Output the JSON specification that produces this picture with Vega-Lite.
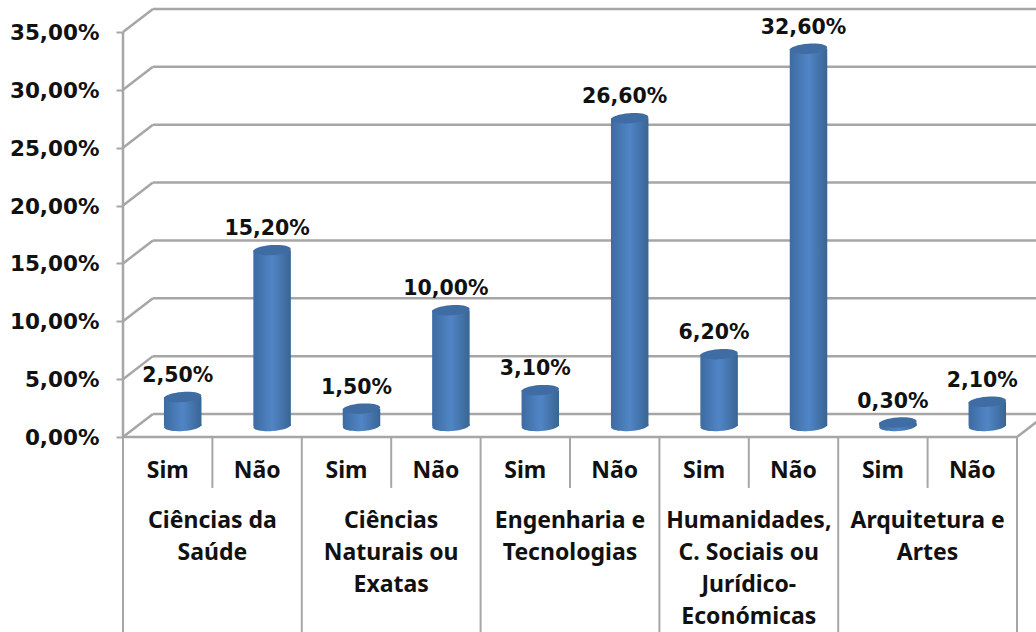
{
"$schema":"https://vega.github.io/schema/vega-lite/v6.json",
"width":913,"height":632,
"autosize":{"type":"none"},
"padding":{"left":123,"top":0,"right":0,"bottom":0},
"background":"white",
"config":{"view":{"stroke":null},"locale":{"number":{"decimal":",","thousands":".","grouping":[3],"currency":["","€"]}},
 "text":{"font":"Noto Sans","fontWeight":"bold","color":"#111111"}},
"datasets":{
 "dados":[
  {"area":"Ciências da Saúde","resposta":"Sim","chave":"CS Sim","pct":0.025},
  {"area":"Ciências da Saúde","resposta":"Não","chave":"CS Não","pct":0.152},
  {"area":"Ciências Naturais ou Exatas","resposta":"Sim","chave":"CN Sim","pct":0.015},
  {"area":"Ciências Naturais ou Exatas","resposta":"Não","chave":"CN Não","pct":0.10},
  {"area":"Engenharia e Tecnologias","resposta":"Sim","chave":"ET Sim","pct":0.031},
  {"area":"Engenharia e Tecnologias","resposta":"Não","chave":"ET Não","pct":0.266},
  {"area":"Humanidades, C. Sociais ou Jurídico-Económicas","resposta":"Sim","chave":"HU Sim","pct":0.062},
  {"area":"Humanidades, C. Sociais ou Jurídico-Económicas","resposta":"Não","chave":"HU Não","pct":0.326},
  {"area":"Arquitetura e Artes","resposta":"Sim","chave":"AA Sim","pct":0.003},
  {"area":"Arquitetura e Artes","resposta":"Não","chave":"AA Não","pct":0.021}
 ],
 "areas":[
  {"area":"Ciências da Saúde","rotulo":"Ciências da\nSaúde"},
  {"area":"Ciências Naturais ou Exatas","rotulo":"Ciências\nNaturais ou\nExatas"},
  {"area":"Engenharia e Tecnologias","rotulo":"Engenharia e\nTecnologias"},
  {"area":"Humanidades, C. Sociais ou Jurídico-Económicas","rotulo":"Humanidades,\nC. Sociais ou\nJurídico-\nEconómicas"},
  {"area":"Arquitetura e Artes","rotulo":"Arquitetura e\nArtes"}
 ],
 "grelha":[{"v":0},{"v":0.05},{"v":0.10},{"v":0.15},{"v":0.20},{"v":0.25},{"v":0.30},{"v":0.35}],
 "grupos":[{"s":0},{"s":2},{"s":4},{"s":6},{"s":8},{"s":10}],
 "subgrupos":[{"s":1},{"s":3},{"s":5},{"s":7},{"s":9}]
},
"resolve":{"scale":{"x":"independent"}},
"layer":[
 {"data":{"name":"grelha"},
  "mark":{"type":"rule","color":"#a6a6a6","strokeWidth":2.5},
  "encoding":{
   "x":{"datum":0.335,"type":"quantitative","scale":{"domain":[0,10],"range":[0,894]},"axis":null},
   "x2":{"datum":10.335},
   "y":{"field":"back","type":"quantitative","scale":{"domain":[-0.1685,0.37766],"range":[632,0],"nice":false,"zero":false},
     "axis":{"title":null,"values":[0,0.05,0.10,0.15,0.20,0.25,0.30,0.35],"format":".2%","domain":false,"grid":false,"tickSize":7,"tickWidth":2,"tickColor":"#a6a6a6","labelPadding":17,"labelOffset":1.5,"labelFont":"DejaVu Sans","labelFontWeight":"bold","labelFontSize":21.5,"labelColor":"#111111"}}
  },
  "transform":[{"calculate":"datum.v+0.0199","as":"back"}]
 },
 {"data":{"name":"grelha"},
  "transform":[{"calculate":"datum.v+0.0199","as":"back"}],
  "mark":{"type":"rule","color":"#a6a6a6","strokeWidth":2.5},
  "encoding":{
   "x":{"datum":0,"type":"quantitative","scale":{"domain":[0,10],"range":[0,894]},"axis":null},
   "x2":{"datum":0.335},
   "y":{"field":"v","type":"quantitative"},
   "y2":{"field":"back"}
  }
 },
 {"data":{"values":[{"v":0}]},
  "mark":{"type":"rule","color":"#a6a6a6","strokeWidth":2.5},
  "encoding":{
   "x":{"datum":10,"type":"quantitative","scale":{"domain":[0,10],"range":[0,894]},"axis":null},
   "x2":{"datum":10.335},
   "y":{"datum":0,"type":"quantitative"},
   "y2":{"datum":0.0199}
  }
 },
 {"data":{"values":[{"v":0}]},
  "mark":{"type":"rule","color":"#a6a6a6","strokeWidth":2.5},
  "encoding":{
   "x":{"datum":0,"type":"quantitative","scale":{"domain":[0,10],"range":[0,894]},"axis":null},
   "x2":{"datum":10},
   "y":{"datum":0,"type":"quantitative"}
  }
 },
 {"data":{"values":[{"v":0}]},
  "mark":{"type":"rule","color":"#a6a6a6","strokeWidth":2.5},
  "encoding":{
   "x":{"datum":0,"type":"quantitative","scale":{"domain":[0,10],"range":[0,894]},"axis":null},
   "y":{"datum":0.35,"type":"quantitative"},
   "y2":{"datum":0}
  }
 },
 {"data":{"name":"grupos"},
  "mark":{"type":"rule","color":"#a6a6a6","strokeWidth":2},
  "encoding":{
   "x":{"field":"s","type":"quantitative","scale":{"domain":[0,10],"range":[0,894]},"axis":null},
   "y":{"datum":0,"type":"quantitative"},
   "y2":{"datum":-0.1685}
  }
 },
 {"data":{"name":"subgrupos"},
  "mark":{"type":"rule","color":"#a6a6a6","strokeWidth":2},
  "encoding":{
   "x":{"field":"s","type":"quantitative","scale":{"domain":[0,10],"range":[0,894]},"axis":null},
   "y":{"datum":0,"type":"quantitative"},
   "y2":{"datum":-0.044}
  }
 },
 {"data":{"name":"dados"},
  "mark":{"type":"point","filled":true,"shape":"M -1 0 A 1 0.27 0 1 0 1 0 A 1 0.27 0 1 0 -1 0 Z","size":1406,"opacity":1,"angle":-4,"xOffset":15,"yOffset":-11,
   "fill":{"x1":0,"x2":1,"y1":0,"y2":0,"gradient":"linear","stops":[{"offset":0,"color":"#3d6ba1"},{"offset":0.5,"color":"#5085c6"},{"offset":1,"color":"#386593"}]}},
  "encoding":{
   "x":{"field":"chave","type":"nominal","sort":null,"scale":{"type":"band","range":[0,894],"paddingInner":0,"paddingOuter":0},"axis":null},
   "y":{"datum":0,"type":"quantitative"}
  }
 },
 {"data":{"name":"dados"},
  "mark":{"type":"bar","width":37.5,"xOffset":15,"x2Offset":15,"yOffset":-11,"y2Offset":-11,
   "fill":{"x1":0,"x2":1,"y1":0,"y2":0,"gradient":"linear","stops":[{"offset":0,"color":"#3d6ba1"},{"offset":0.5,"color":"#5085c6"},{"offset":1,"color":"#386593"}]}},
  "encoding":{
   "x":{"field":"chave","type":"nominal","sort":null,"scale":{"type":"band","range":[0,894],"paddingInner":0,"paddingOuter":0},"axis":null},
   "y":{"field":"pct","type":"quantitative"}
  }
 },
 {"data":{"name":"dados"},
  "mark":{"type":"point","filled":true,"shape":"M -1 0 A 1 0.27 0 1 0 1 0 A 1 0.27 0 1 0 -1 0 Z","size":1406,"opacity":1,"angle":-4,"xOffset":15,"yOffset":-11,"color":"#3f6da3"},
  "encoding":{
   "x":{"field":"chave","type":"nominal","sort":null,"scale":{"type":"band","range":[0,894],"paddingInner":0,"paddingOuter":0},"axis":null},
   "y":{"field":"pct","type":"quantitative"}
  }
 },
 {"data":{"name":"dados"},
  "mark":{"type":"text","font":"DejaVu Sans","fontSize":20.5,"xOffset":10,"yOffset":-32,"baseline":"middle"},
  "encoding":{
   "x":{"field":"chave","type":"nominal","sort":null,"scale":{"type":"band","range":[0,894],"paddingInner":0,"paddingOuter":0},"axis":null},
   "y":{"field":"pct","type":"quantitative"},
   "text":{"field":"pct","type":"quantitative","format":".2%"}
  }
 },
 {"data":{"name":"dados"},
  "mark":{"type":"text","fontSize":23,"baseline":"middle"},
  "encoding":{
   "x":{"field":"chave","type":"nominal","sort":null,"scale":{"type":"band","range":[0,894],"paddingInner":0,"paddingOuter":0},"axis":null},
   "y":{"datum":-0.0295,"type":"quantitative"},
   "text":{"field":"resposta"}
  }
 },
 {"data":{"name":"areas"},
  "mark":{"type":"text","fontSize":23,"baseline":"middle","lineBreak":"\n","lineHeight":32},
  "encoding":{
   "x":{"field":"area","type":"nominal","sort":null,"scale":{"type":"band","range":[0,894],"paddingInner":0,"paddingOuter":0},"axis":null},
   "y":{"datum":-0.0725,"type":"quantitative"},
   "text":{"field":"rotulo"}
  }
 }
]
}
